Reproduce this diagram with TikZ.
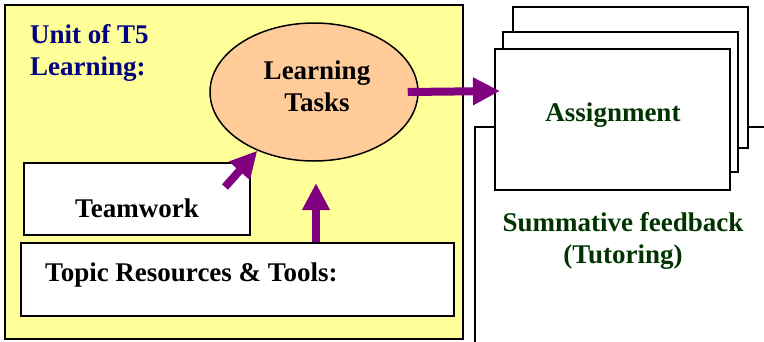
\documentclass[tikz,border=0pt]{standalone}
\usepackage{fontspec}
\setmainfont{Liberation Serif}
\usetikzlibrary{shapes.geometric,arrows.meta}
\definecolor{unitfill}{HTML}{FFFF99}
\definecolor{taskfill}{HTML}{FFCC99}
\definecolor{flowpurple}{HTML}{800080}
\definecolor{unitnavy}{HTML}{000080}
\definecolor{feedgreen}{HTML}{003300}
\tikzset{
  lbl/.style={font=\bfseries\fontsize{27}{32}\selectfont, inner sep=0pt},
  whitebox/.style={draw=black, line width=1.5pt, fill=white, inner sep=0pt},
  bigarrow/.style={draw=flowpurple, line width=8pt,
    -{Triangle[length=27pt,width=26pt]}},
}
\begin{document}
\begin{tikzpicture}[x=1pt,y=-1pt]
\useasboundingbox (0,0) rectangle (764,341);

% unit container
\draw[line width=1.5pt, fill=unitfill] (5,5) rectangle (463,339);
% (base of a two-line node = baseline of its last line)
\node[lbl, text=unitnavy, anchor=base west, align=left] (unit) at (30,75)
  {Unit of T5\\Learning:};

% learning tasks
\node[ellipse, draw=black, line width=1.5pt, fill=taskfill, inner sep=0pt,
  minimum width=208pt, minimum height=138pt] (LT) at (314,92) {};
\node[lbl, align=center, anchor=base] (LTtext) at (317,111) {Learning\\Tasks};

% inputs
\node[whitebox, minimum width=226pt, minimum height=72pt] (TW) at (137,199) {};
\node[lbl, anchor=base] (TWtext) at (137,217) {Teamwork};
\node[whitebox, minimum width=433pt, minimum height=73pt] (Topic) at (237.5,279.5) {};
\node[lbl, anchor=base west] (Topictext) at (45,281) {Topic Resources \& Tools:};

% feedback frame behind the assignment stack
\coordinate (frameBL) at (475,345);
\coordinate (frameTL) at (475,127);
\coordinate (frameTR) at (768,127);
\draw[line width=1.5pt] (frameBL) -- (frameTL) -- (frameTR);

% assignment stack
\node[whitebox, minimum width=235pt, minimum height=141pt] (Back) at (630.5,77.5) {};
\node[whitebox, minimum width=235pt, minimum height=140pt] (Mid) at (620.5,102) {};
\node[whitebox, minimum width=235pt, minimum height=141pt] (Front) at (612.5,119.5) {};
\node[lbl, text=feedgreen, anchor=base] (Asgtext) at (613,121) {Assignment};
\node[lbl, text=feedgreen, align=center, anchor=base] (Summ) at (623,263)
  {Summative feedback\\(Tutoring)};

% flow arrows
\coordinate (twTail) at (225,187);
\coordinate (upTip) at (316,183);
\coordinate (asTip) at (500,91);
\draw[bigarrow] (twTail) -- (LT.226);
\draw[bigarrow] (upTip |- Topic.north) -- (upTip);
\draw[bigarrow] ([xshift=-11pt]LT.east) -- (asTip);
\end{tikzpicture}
\end{document}
